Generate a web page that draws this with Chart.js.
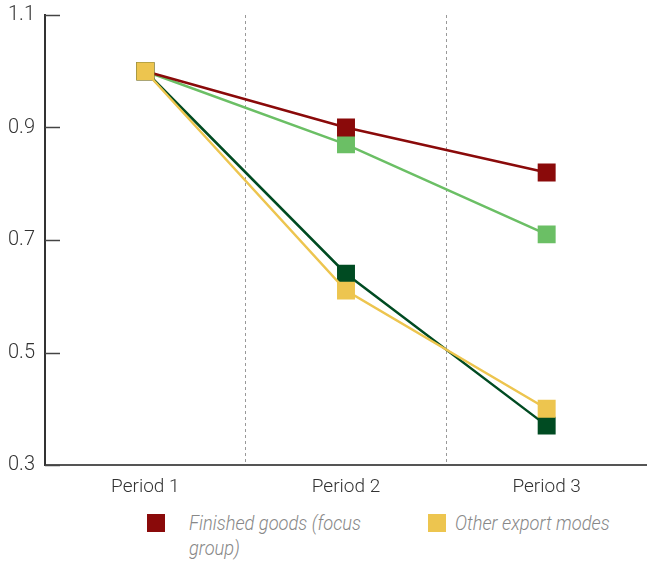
<!DOCTYPE html>
<html>
<head>
<meta charset="utf-8">
<script src="https://cdn.jsdelivr.net/npm/chart.js@4.4.1/dist/chart.umd.min.js"></script>
<style>
  html, body { margin: 0; padding: 0; background: #fff; }
  #wrap { position: relative; width: 647px; height: 567px; }
  #cv { position: absolute; left: 0; top: 0; }
  .leg { position: absolute; font-family: Roboto, 'Noto Sans', sans-serif; font-weight: 300;
         font-style: italic; font-size: 21px; line-height: 25px; color: #888;
         transform: scaleX(0.87); transform-origin: 0 0; }
  .sw { position: absolute; width: 18px; height: 18px; }
</style>
</head>
<body>
<div id="wrap">
  <canvas id="cv" width="647" height="500"></canvas>
  <div class="sw" id="sw1" style="left:147px; top:514px;"></div>
  <div class="leg" id="lt1" style="left:189px; top:511px; width:210px;"></div>
  <div class="sw" id="sw2" style="left:428px; top:514px;"></div>
  <div class="leg" id="lt2" style="left:455px; top:511px; width:230px;"></div>
</div>
<script>
const categories = ['Period 1', 'Period 2', 'Period 3'];
const finishedGoods = [1.0, 0.90, 0.82];
const lightGreenSeries = [1.0, 0.87, 0.71];
const darkGreenSeries = [1.0, 0.64, 0.37];
const otherExportModes = [1.0, 0.61, 0.40];
const yTicks = [0.3, 0.5, 0.7, 0.9, 1.1];
const legendLabels = ['Finished goods (focus group)', 'Other export modes'];

const RED = '#8a0a0a', LGREEN = '#6bbf65', DGREEN = '#004b22', YELLOW = '#edc54f';
const FONT = "Roboto, 'Noto Sans', sans-serif";

document.getElementById('sw1').style.background = RED;
document.getElementById('sw2').style.background = YELLOW;
document.getElementById('lt1').textContent = legendLabels[0];
document.getElementById('lt2').textContent = legendLabels[1];

function ds(label, data, color, order) {
  return {
    label, data, order,
    borderColor: color, backgroundColor: color,
    borderWidth: 2.5,
    pointStyle: 'rect', pointRadius: 12.7, pointHoverRadius: 12.7,
    pointBorderWidth: 0, pointBackgroundColor: color,
    tension: 0, fill: false
  };
}

const inwardTicks = {
  id: 'inwardTicks',
  afterDatasetsDraw(chart) {
    const y = chart.scales.y, ctx = chart.ctx;
    ctx.save();
    ctx.strokeStyle = '#444';
    ctx.lineWidth = 1.5;
    yTicks.forEach(v => {
      const py = Math.round(y.getPixelForValue(v)) + 0.5;
      ctx.beginPath();
      ctx.moveTo(y.right, py);
      ctx.lineTo(y.right + 15, py);
      ctx.stroke();
    });
    ctx.restore();
  }
};

new Chart(document.getElementById('cv'), {
  type: 'line',
  data: {
    labels: categories,
    datasets: [
      ds(legendLabels[0], finishedGoods, RED, 2),
      ds('Series 2', lightGreenSeries, LGREEN, 3),
      ds('Series 3', darkGreenSeries, DGREEN, 1),
      ds(legendLabels[1], otherExportModes, YELLOW, 0)
    ]
  },
  options: {
    responsive: false,
    animation: false,
    events: [],
    layout: { autoPadding: false, padding: { top: 15, right: 0, left: 0, bottom: 0 } },
    plugins: { legend: { display: false }, tooltip: { enabled: false } },
    scales: {
      x: {
        type: 'category',
        offset: true,
        grid: {
          display: true, offset: true, lineWidth: 1, drawTicks: false,
          color: c => (c.index === 0 || c.index === categories.length) ? 'rgba(0,0,0,0)' : '#999'
        },
        border: { display: true, color: '#555', width: 2, dash: [3, 3] },
        ticks: { color: '#333', padding: 11, font: { family: FONT, size: 19, weight: 300 } },
        afterFit(s) { s.height = 35; s.paddingLeft = 0; s.paddingRight = 0; }
      },
      y: {
        min: 0.3, max: 1.1,
        afterBuildTicks(s) { s.ticks = yTicks.map(v => ({ value: v })); },
        grid: { display: false, drawTicks: false },
        border: { display: true, color: '#333', width: 2 },
        ticks: { color: '#333', padding: 10, font: { family: FONT, size: 20, weight: 300 },
                 callback: v => Number(v).toFixed(1) },
        afterFit(s) { s.width = 45; s.paddingTop = 0; s.paddingBottom = 0; }
      }
    }
  },
  plugins: [inwardTicks]
});
</script>
</body>
</html>
